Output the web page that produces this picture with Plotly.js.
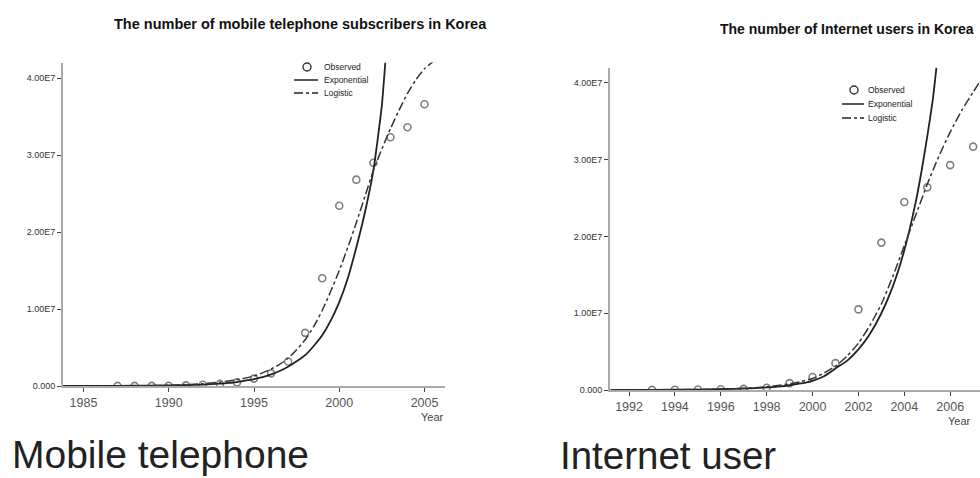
<!DOCTYPE html>
<html><head><meta charset="utf-8">
<script src="https://cdn.plot.ly/plotly-3.0.1.min.js"></script>
<style>html,body{margin:0;padding:0;background:#fff;overflow:hidden}#chart{width:980px;height:478px}</style>
</head><body><div id="chart"></div>
<script>
// ---- Mobile telephone subscribers (left) ----
const mobileYears = [1987,1988,1989,1990,1991,1992,1993,1994,1995,1996,1997,1998,1999,2000,2001,2002,2003,2004,2005];
const mobileObserved = [0.01e6,0.01e6,0.02e6,0.04e6,0.08e6,0.17e6,0.27e6,0.47e6,0.96e6,1.64e6,3.18e6,6.9e6,14.0e6,23.4e6,26.8e6,29.0e6,32.3e6,33.6e6,36.6e6];
const mobileExpYears  = [1983.8,1986,1988,1990,1991,1992,1993,1993.5,1994,1994.5,1995,1995.5,1996,1996.5,1997,1997.5,1998,1998.5,1999,1999.5,2000,2000.5,2001,2001.5,2002,2002.25,2002.5,2002.7];
const mobileExpValues = [0,0.01e6,0.03e6,0.07e6,0.11e6,0.18e6,0.3e6,0.4e6,0.5e6,0.7e6,0.9e6,1.15e6,1.5e6,1.95e6,2.5e6,3.2e6,4.0e6,5.2e6,6.6e6,8.5e6,10.9e6,14.0e6,18.0e6,22.5e6,28.0e6,32.0e6,36.5e6,42.0e6];
const mobileLogYears  = [1983.8,1988,1990,1992,1993,1994,1995,1995.5,1996,1996.5,1997,1997.5,1998,1998.5,1999,1999.5,2000,2000.5,2001,2001.5,2002,2002.5,2003,2003.5,2004,2004.5,2005,2005.6];
const mobileLogValues = [0,0.02e6,0.1e6,0.3e6,0.5e6,0.8e6,1.3e6,1.7e6,2.2e6,2.8e6,3.6e6,4.7e6,6.0e6,7.7e6,9.8e6,12.3e6,15.0e6,18.0e6,21.2e6,24.6e6,28.0e6,30.8e6,33.4e6,35.8e6,38.0e6,39.8e6,41.2e6,42.3e6];
const mobileTicks = [1985,1990,1995,2000,2005];

// ---- Internet users (right) ----
const netYears = [1993,1994,1995,1996,1997,1998,1999,2000,2001,2002,2003,2004,2005,2006,2007];
const netObserved = [0.02e6,0.04e6,0.07e6,0.1e6,0.15e6,0.3e6,0.9e6,1.7e6,3.5e6,10.5e6,19.2e6,24.5e6,26.4e6,29.3e6,31.7e6];
const netExpYears  = [1991.2,1993,1995,1996,1997,1998,1998.5,1999,1999.5,2000,2000.5,2001,2001.5,2002,2002.5,2003,2003.5,2004,2004.5,2004.75,2005,2005.25,2005.4];
const netExpValues = [0,0.02e6,0.06e6,0.1e6,0.18e6,0.33e6,0.45e6,0.62e6,0.85e6,1.2e6,1.8e6,2.8e6,3.8e6,5.3e6,7.3e6,10.0e6,13.5e6,18.2e6,24.5e6,28.5e6,33.0e6,38.0e6,42.0e6];
const netLogYears  = [1991.2,1993,1995,1997,1998,1999,1999.5,2000,2000.5,2001,2001.5,2002,2002.5,2003,2003.5,2004,2004.5,2005,2005.5,2006,2006.5,2007,2007.3];
const netLogValues = [0,0.02e6,0.07e6,0.22e6,0.42e6,0.8e6,1.1e6,1.5e6,2.2e6,3.1e6,4.4e6,6.1e6,8.4e6,11.2e6,14.8e6,18.8e6,22.8e6,26.8e6,30.4e6,33.6e6,36.4e6,38.8e6,40.2e6];
const netTicks = [1992,1994,1996,1998,2000,2002,2004,2006];

const yTickVals = [0,1e7,2e7,3e7,4e7];
const yTickText = ["0.000","1.00E7","2.00E7","3.00E7","4.00E7"];
const seriesNames = ["Observed","Exponential","Logistic"];

const FONT = "Liberation Sans, Arial, sans-serif";
const W = 980, H = 478;
const px = v => v / W;
const py = v => (H - v) / H;

function traces(xs, obs, ex, ey, lx, ly, xa, ya) {
  return [
    {x: xs, y: obs, type: "scatter", mode: "markers", name: seriesNames[0], xaxis: xa, yaxis: ya,
     marker: {symbol: "circle-open", size: 7, color: "#808080", line: {width: 1.6, color: "#808080"}}},
    {x: ex, y: ey, type: "scatter", mode: "lines", name: seriesNames[1], xaxis: xa, yaxis: ya,
     line: {color: "#222", width: 1.8, shape: "spline", smoothing: 0.5}},
    {x: lx, y: ly, type: "scatter", mode: "lines", name: seriesNames[2], xaxis: xa, yaxis: ya,
     line: {color: "#333", width: 1.5, dash: "dashdot", shape: "spline", smoothing: 0.5}}
  ];
}

const data = [
  ...traces(mobileYears, mobileObserved, mobileExpYears, mobileExpValues, mobileLogYears, mobileLogValues, "x", "y"),
  ...traces(netYears, netObserved, netExpYears, netExpValues, netLogYears, netLogValues, "x2", "y2")
];

function xax(domain, range, ticks) {
  return {domain: domain, range: range, tickvals: ticks, ticktext: ticks.map(String),
    showline: true, linecolor: "#aaa", linewidth: 2, ticks: "outside", ticklen: 4, tickcolor: "#444", tickwidth: 1,
    showgrid: false, zeroline: false, tickfont: {family: FONT, size: 12.5, color: "#555"}, fixedrange: true};
}
function yax(domain, anchor) {
  return {domain: domain, range: [0, 4.2e7], tickvals: yTickVals, ticktext: yTickText, anchor: anchor,
    showline: true, linecolor: "#aaa", linewidth: 2, ticks: "outside", ticklen: 4, tickcolor: "#444", tickwidth: 1,
    showgrid: false, zeroline: false, tickfont: {family: FONT, size: 9, color: "#333"}, fixedrange: true};
}

// manual legends (legend keys, not data)
function legendParts(cx, cy, lx0, lx1, tx, rowGap) {
  const shapes = [
    {type: "circle", xref: "paper", yref: "paper", x0: px(cx - 4), x1: px(cx + 4), y0: py(cy + 4), y1: py(cy - 4),
     line: {color: "#333", width: 1.4}},
    {type: "line", xref: "paper", yref: "paper", x0: px(lx0), x1: px(lx1), y0: py(cy + rowGap), y1: py(cy + rowGap),
     line: {color: "#222", width: 1.5}},
    {type: "line", xref: "paper", yref: "paper", x0: px(lx0), x1: px(lx1), y0: py(cy + 2 * rowGap), y1: py(cy + 2 * rowGap),
     line: {color: "#222", width: 1.5, dash: "dashdot"}}
  ];
  const anns = seriesNames.map((n, i) => ({text: n, xref: "paper", yref: "paper", x: px(tx), y: py(cy + i * rowGap),
    xanchor: "left", yanchor: "middle", showarrow: false, font: {family: FONT, size: 8.5, color: "#222"}}));
  return {shapes, anns};
}
const legL = legendParts(307, 67, 294, 318, 322, 13);
const legR = legendParts(854, 90, 842, 864, 866, 14);

const layout = {
  width: W, height: H, margin: {l: 0, r: 0, t: 0, b: 0},
  paper_bgcolor: "#fff", plot_bgcolor: "#fff", showlegend: false,
  font: {family: FONT},
  xaxis: Object.assign(xax([px(63), px(445)], [1983.8, 2006.2], mobileTicks), {anchor: "y"}),
  yaxis: yax([py(386), py(62.6)], "x"),
  xaxis2: Object.assign(xax([px(610), 1], [1991.17, 2007.3], netTicks), {anchor: "y2"}),
  yaxis2: yax([py(390), py(67.6)], "x2"),
  shapes: [...legL.shapes, ...legR.shapes],
  annotations: [
    {text: "<b>The number of mobile telephone subscribers in Korea</b>", xref: "paper", yref: "paper",
     x: px(300), y: py(24), xanchor: "center", yanchor: "middle", showarrow: false,
     font: {family: FONT, size: 14.5, color: "#111"}},
    {text: "<b>The number of Internet users in Korea</b>", xref: "paper", yref: "paper",
     x: px(976), y: py(29), xanchor: "right", yanchor: "middle", showarrow: false,
     font: {family: FONT, size: 14, color: "#111"}},
    {text: "Year", xref: "paper", yref: "paper", x: px(446), y: py(417), xanchor: "right", yanchor: "middle",
     showarrow: false, font: {family: FONT, size: 11, color: "#444"}},
    {text: "Year", xref: "paper", yref: "paper", x: px(973), y: py(421), xanchor: "right", yanchor: "middle",
     showarrow: false, font: {family: FONT, size: 11, color: "#444"}},
    {text: "Mobile telephone", xref: "paper", yref: "paper", x: px(10), y: py(454), xanchor: "left", yanchor: "middle",
     showarrow: false, font: {family: FONT, size: 39, color: "#222"}},
    {text: "Internet user", xref: "paper", yref: "paper", x: px(558), y: py(455), xanchor: "left", yanchor: "middle",
     showarrow: false, font: {family: FONT, size: 38.5, color: "#222"}},
    ...legL.anns, ...legR.anns
  ]
};

Plotly.newPlot("chart", data, layout, {displayModeBar: false, staticPlot: true});
</script></body></html>
